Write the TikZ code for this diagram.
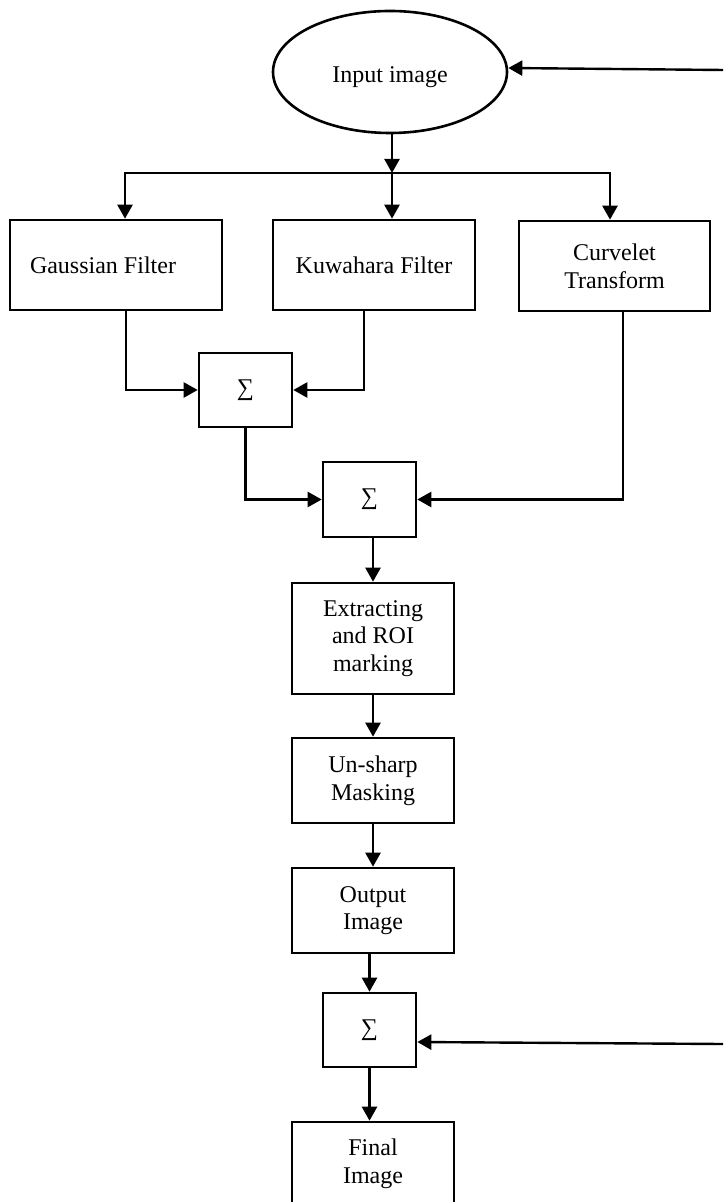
\documentclass[tikz,border=0pt]{standalone}
\usepackage{fontspec}
\setmainfont{Liberation Serif}
\usetikzlibrary{shapes.geometric,arrows.meta}
\tikzset{
  box/.style={draw, line width=1.3pt, rectangle, align=center, inner sep=0pt,
    font=\fontsize{12}{13.8}\selectfont},
  oval/.style={draw, line width=1.3pt, ellipse, inner sep=0pt,
    font=\fontsize{12}{13.8}\selectfont},
  conn/.style={line width=1.2pt},
  arr/.style={conn, -{Triangle[length=7pt,width=7.5pt]}}
}
\begin{document}
\begin{tikzpicture}[x=0.5pt,y=-0.5pt]
\clip (0,0) rectangle (723,1202);
\fill[white] (0,0) rectangle (723,1202);
% nodes
\node[oval, minimum width=117pt, minimum height=61pt, text height=11pt, text depth=0pt] (in) at (390,72) {Input image};
\node[box, minimum width=106pt, minimum height=45pt, text height=8.7pt, text depth=0pt] (gauss) at (116,265) {Gaussian Filter\hspace*{13pt}};
\node[box, minimum width=101pt, minimum height=45pt, text height=8.7pt, text depth=0pt] (kuw) at (374,265) {Kuwahara Filter};
\node[box, minimum width=95.5pt, minimum height=45pt] (cur) at (614.5,266) {Curvelet\\Transform};
\node[box, minimum width=46.5pt, minimum height=37pt] (s1) at (245.5,390) {∑};
\node[box, minimum width=46.5pt, minimum height=37.5pt] (s2) at (369.5,499.5) {∑};
\node[box, minimum width=81pt, minimum height=55.5pt] (ext) at (373,638.5) {Extracting\\and ROI\\marking};
\node[box, minimum width=81pt, minimum height=42.5pt] (uns) at (373,780.5) {Un-sharp\\Masking};
\node[box, minimum width=81pt, minimum height=42.5pt] (out) at (373,910.5) {Output\\Image};
\node[box, minimum width=46.5pt, minimum height=37pt] (s3) at (369.5,1030) {∑};
\node[box, minimum width=81pt, minimum height=42pt] (fin) at (373,1164) {Final\\Image};
% helper coordinates
\coordinate (br) at (392,173);
\coordinate (gx) at (125,0);
\coordinate (cx) at (610,0);
\coordinate (gox) at (126,0);
\coordinate (kox) at (364,0);
\coordinate (cox) at (623,0);
\coordinate (inA) at (723,70);
\coordinate (inB) at (723,1044);
% connectors
\draw[arr] (in.south -| br) -- (br);
\draw[arr] (br) -- (br |- kuw.north);
\draw[arr] (br) -| (gx |- gauss.north);
\draw[arr] (br) -| (cx |- cur.north);
\draw[arr] (gauss.south -| gox) |- (s1.west);
\draw[arr] (kuw.south -| kox) |- (s1.east);
\draw[arr] (s1.south) |- (s2.west);
\draw[arr] (cur.south -| cox) |- (s2.east);
\draw[arr] (s2.south -| ext.north) -- (ext.north);
\draw[arr] (ext.south) -- (uns.north);
\draw[arr] (uns.south) -- (out.north);
\draw[arr] (out.south -| s3.north) -- (s3.north);
\draw[arr] (s3.south) -- (s3.south |- fin.north);
\draw[arr] (inA) -- ([yshift=2pt]in.east);
\draw[arr] (inB) -- ([yshift=-6pt]s3.east);
\end{tikzpicture}
\end{document}
